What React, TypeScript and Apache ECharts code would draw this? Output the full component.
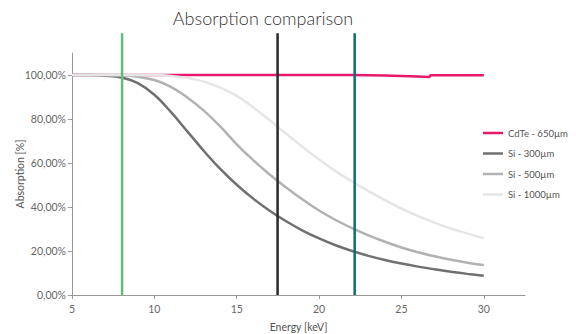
import React, { useEffect, useRef } from "react";
import * as echarts from "echarts";

const energies = [5, 6, 7, 8, 9, 10, 11, 12, 13, 14, 15, 16, 17, 18, 19, 20, 21, 22, 23, 24, 25, 26, 27, 28, 29, 30];
const si300 = [100, 99.97, 99.7, 98.9, 96.3, 91.0, 83.2, 74.4, 65.5, 57.3, 50.1, 43.8, 38.3, 33.5, 29.3, 25.7, 22.6, 20.0, 17.8, 15.9, 14.3, 12.9, 11.7, 10.6, 9.6, 8.7];
const si500 = [100, 100, 99.95, 99.8, 99.2, 97.7, 94.6, 89.8, 83.8, 76.6, 68.5, 61.3, 54.8, 48.9, 43.4, 38.4, 34.1, 30.4, 27.1, 24.2, 21.6, 19.4, 17.6, 16.0, 14.7, 13.6];
const si1000 = [100, 100, 100, 100, 100, 99.95, 99.6, 98.7, 97.0, 94.3, 90.5, 85.3, 79.4, 73.3, 67.3, 61.6, 56.3, 51.6, 47.2, 43.1, 39.3, 35.9, 32.9, 30.2, 27.9, 25.8];
const cdteEnergies = [5, 10, 15, 20, 22, 23, 24, 25, 26, 26.7, 26.75, 28, 30];
const cdteValues = [100, 100, 100, 100, 100, 99.9, 99.8, 99.6, 99.35, 99.1, 99.9, 99.9, 99.9];
const edgeLines = [
  { energy: 8.04, color: "#5cbf7e" },
  { energy: 17.48, color: "#262a2a" },
  { energy: 22.16, color: "#0f6c76" },
];
const xTicks = [5, 10, 15, 20, 25, 30];
const yTicks = [0, 20, 40, 60, 80, 100];
const seriesNames = ["CdTe - 650µm", "Si - 300µm", "Si - 500µm", "Si - 1000µm"];
const seriesColors = ["#e8186b", "#707070", "#b2b2b2", "#e6e6e6"];

const FONT = "Lato";

export default function App() {
  const ref = useRef<HTMLDivElement>(null);
  useEffect(() => {
    if (!ref.current) return;
    const chart = echarts.init(ref.current, undefined, { renderer: "svg" });
    const pair = (xs: number[], ys: number[]) => xs.map((x, i) => [x, ys[i]]);
    const siData = [si300, si500, si1000];
    const curveSeries: any[] = [
      {
        name: seriesNames[0],
        type: "line",
        data: pair(cdteEnergies, cdteValues),
        symbol: "none",
        lineStyle: { width: 2.5, color: seriesColors[0] },
        itemStyle: { color: seriesColors[0] },
      },
      ...siData.map((d, i) => ({
        name: seriesNames[i + 1],
        type: "line",
        data: pair(energies, d),
        symbol: "none",
        smooth: 0.4,
        lineStyle: { width: 2.5, color: seriesColors[i + 1] },
        itemStyle: { color: seriesColors[i + 1] },
      })),
    ];
    const vertSeries = edgeLines.map((e) => ({
      type: "line",
      data: [
        [e.energy, 0],
        [e.energy, 119],
      ],
      symbol: "none",
      clip: false,
      lineStyle: { width: 2.5, color: e.color },
      silent: true,
    }));
    chart.setOption({
      animation: false,
      textStyle: { fontFamily: FONT },
      title: {
        text: "Absorption comparison",
        left: 258,
        textAlign: "center",
        top: 4,
        textStyle: { fontFamily: FONT, fontSize: 18, fontWeight: 300, color: "#333" },
      },
      legend: {
        data: seriesNames,
        orient: "vertical",
        left: 483,
        top: 128,
        padding: 0,
        icon: "rect",
        itemWidth: 20,
        itemHeight: 2.5,
        itemGap: 10.5,
        textStyle: { fontFamily: FONT, fontSize: 9.5, color: "#555" },
      },
      grid: { left: 72, right: 51, top: 53, bottom: 39, containLabel: false, outerBoundsMode: "none" },
      xAxis: {
        type: "value",
        min: 5,
        max: 32.5,
        name: "Energy [keV]",
        nameLocation: "middle",
        nameGap: 26.5,
        nameMoveOverlap: false,
        nameTextStyle: { fontFamily: FONT, fontSize: 10.5, color: "#555" },
        axisLine: { lineStyle: { color: "#999", width: 1 } },
        axisTick: { show: true, length: 4, lineStyle: { color: "#999" }, customValues: xTicks },
        axisLabel: { customValues: xTicks, margin: 8, fontFamily: FONT, fontSize: 10.5, color: "#666" },
        splitLine: { show: false },
      },
      yAxis: {
        type: "value",
        min: 0,
        max: 110,
        name: "Absorption [%]",
        nameLocation: "middle",
        nameGap: 47,
        nameMoveOverlap: false,
        nameTextStyle: { fontFamily: FONT, fontSize: 10.5, color: "#555" },
        axisLine: { show: true, lineStyle: { color: "#999", width: 1 } },
        axisTick: { show: true, length: 4, lineStyle: { color: "#999" }, customValues: yTicks },
        axisLabel: {
          customValues: yTicks,
          margin: 6,
          fontFamily: FONT,
          fontSize: 10.5,
          color: "#666",
          formatter: (v: number) => v.toFixed(2).replace(".", ",") + "%",
        },
        splitLine: { show: false },
      },
      series: [...curveSeries, ...vertSeries],
    });
    return () => chart.dispose();
  }, []);
  return <div ref={ref} style={{ width: 576, height: 334, position: "absolute", left: 0, top: 0 }} />;
}
